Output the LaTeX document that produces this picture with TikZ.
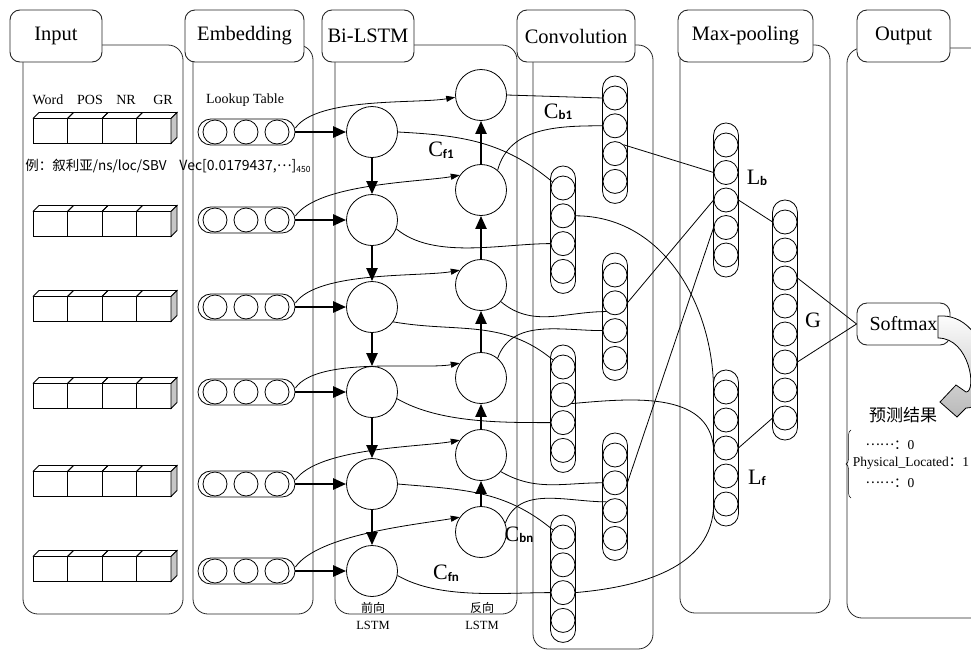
\documentclass[tikz,border=0pt]{standalone}
\usepackage{fontspec}
\setmainfont{Liberation Serif}
\newfontfamily\cjk{Noto Sans CJK SC}
\newfontfamily\subsf{Carlito}
\usetikzlibrary{arrows.meta,decorations.pathreplacing}

\tikzstyle{panel} = [draw=black!85, line width=0.8pt, rounded corners=15pt]
\tikzstyle{ptitle} = [draw=black!85, fill=white, line width=0.9pt, rounded corners=10pt,
    minimum height=52pt, inner sep=0pt, font=\fontsize{20.5}{22}\selectfont]
\tikzstyle{lstm} = [draw, circle, line width=0.8pt, minimum size=51pt, inner sep=0pt]
\tikzstyle{unit} = [draw, circle, line width=0.8pt, minimum size=24pt, inner sep=0pt]
\tikzstyle{capsule} = [draw, fill=white, line width=0.8pt, inner sep=0pt]
\tikzstyle{thickarr} = [line width=2.6pt, -{Triangle[length=13pt,width=11pt]}]
\tikzstyle{thinarr} = [line width=0.8pt, -{Triangle[length=9pt,width=6pt]}]
\tikzstyle{wire} = [line width=0.8pt]
\tikzstyle{hdr} = [inner sep=0pt, font=\fontsize{14}{14}\selectfont]
\tikzstyle{small} = [inner sep=0pt, font=\fontsize{12.5}{13}\selectfont]

\newcommand{\vstack}[5]{%
  \pgfmathsetmacro{\stlen}{(#4-1)*#5+44}
  \node[capsule, minimum width=25pt, minimum height=\stlen pt, rounded corners=12.4pt]
    (#1) at (#2,{#3+(#4-1)*#5/2}) {};
  \foreach \k in {1,...,#4}
    \node[unit] (#1\k) at (#2,{#3+(\k-1)*#5}) {};
}
\newcommand{\cname}[2]{{\fontsize{22}{22}\selectfont #1}\raisebox{-1.5pt}{\subsf\bfseries\fontsize{13}{13}\selectfont #2}}
\newcommand{\middots}[1]{\raisebox{0.3em}{\cjk #1}}

\begin{document}
\begin{tikzpicture}[x=1pt,y=-1pt]
\useasboundingbox (0,0) rectangle (971,651);
\clip (0,0) rectangle (971,651);

\draw[panel] (23,45) rectangle (183,614);
\draw[panel] (193,45) rectangle (313,614);
\draw[panel] (335,45) rectangle (517,614);
\draw[panel] (533,45) rectangle (653,649);
\draw[panel] (680,45) rectangle (830,613);
\draw[panel] (847,48) rectangle (995,618);

\node[ptitle, minimum width=92pt] (tinput) at (56,36) {Input};
\node[ptitle, minimum width=119pt] (tembed) at (244.5,36) {Embedding};
\node[ptitle, minimum width=92pt] (tlstm) at (368,36) {Bi-LSTM};
\node[ptitle, minimum width=118pt] (tconv) at (576,36) {Convolution};
\node[ptitle, minimum width=135pt] (tpool) at (745.5,36) {Max-pooling};
\node[ptitle, minimum width=93pt] (tout) at (903.5,36) {Output};

% input features
\foreach \t/\xx in {Word/48,POS/90,NR/126,GR/163}
  \node[hdr] (h\t) at (\xx,100) {\t};
\node[inner sep=0pt, font=\cjk\fontsize{13.5}{14}\selectfont] (sample) at (96,166) {例：叙利亚/ns/loc/SBV};
\foreach \yc in {131,224,309,396,484,569} {
  \foreach \j in {0,...,3} {
    \pgfmathsetmacro{\xa}{33+34.5*\j}
    \draw[wire] ({\xa},{\yc-12.5}) rectangle ++(34.5,25);
    \draw[wire] ({\xa},{\yc-12.5}) -- ++(6,-6) -- ++(34.5,0) -- ++(-6,6);
  }
  \draw[wire, fill=gray!45] (171,{\yc-12.5}) -- (177,{\yc-18.5}) -- (177,{\yc+6.5}) -- (171,{\yc+12.5}) -- cycle;
}

% embedding
\node[hdr] (lookup) at (245,100) {Lookup Table};
\node[inner sep=0pt, font=\cjk\fontsize{14}{14}\selectfont] (vec) at (245,166)
  {Vec[0.0179437,\raisebox{0.3em}{…}]\raisebox{-2.5pt}{\fontsize{8.5}{9}\selectfont 450}};
\foreach \i/\y/\yb in {1/132/95,2/220/190,3/307/285,4/392/378,5/484/455,6/571/532} {
  \node[capsule, minimum width=97pt, minimum height=26pt, rounded corners=12.9pt] (emb\i) at (246.5,\y) {};
  \foreach \cc/\xx in {a/215,b/246,c/277}
    \node[unit] (emb\i\cc) at (\xx,\y) {};
  \node[lstm] (fw\i) at (372,\y) {};
  \node[lstm] (bw\i) at (481,\yb) {};
}
\node[small, font=\cjk\fontsize{12}{12}\selectfont] (fwname) at (373,608) {前向};
\node[small] (fwlstm) at (373,625) {LSTM};
\node[small, font=\cjk\fontsize{12}{12}\selectfont] (bwname) at (482,608) {反向};
\node[small] (bwlstm) at (482,625) {LSTM};

% convolution and pooling
\vstack{A}{615}{98}{4}{27.8}
\vstack{B}{563}{188}{4}{27.8}
\vstack{C}{615}{275}{4}{27.8}
\vstack{D}{563}{367}{4}{27.8}
\vstack{E}{615}{455}{4}{27.8}
\vstack{F}{563}{537}{4}{27.8}
\vstack{Lb}{726}{145}{5}{27.5}
\vstack{Lf}{726}{392}{5}{28}
\vstack{G}{785}{222}{8}{28}

\node (cf1) at (441,150) {\cname{C}{f1}};
\node (cb1) at (558,112) {\cname{C}{b1}};
\node (cbn) at (519,535) {\cname{C}{bn}};
\node (cfn) at (446,573) {\cname{C}{fn}};
\node (lb) at (757,178) {\cname{L}{b}};
\node (lf) at (757,478) {\cname{L}{f}};
\node[font=\fontsize{22}{22}\selectfont] (lg) at (813,320) {G};

% output
\node[ptitle, minimum width=93pt, minimum height=42pt, font=\fontsize{20}{22}\selectfont] (soft) at (903.5,324) {Softmax};
\shade[top color=white, bottom color=gray!55] (938,316) .. controls (992,312) and (1002,408) .. (966,408)
  -- (957,417) -- (940,402) -- (956,385) -- (966,392)
  .. controls (977,392) and (970,338) .. (938,338) -- cycle;
\draw[wire] (938,316) .. controls (992,312) and (1002,408) .. (966,408) -- (957,417) -- (940,402)
  -- (956,385) -- (966,392) .. controls (977,392) and (970,338) .. (938,338) -- cycle;
\node[inner sep=0pt, font=\cjk\fontsize{17}{17}\selectfont] (pred) at (903,415) {预测结果};
\draw[line width=0.5pt, decorate, decoration={brace, amplitude=5pt}] (851,498) -- (851,430);
\node[inner sep=0pt, font=\fontsize{13.5}{14}\selectfont] (res1) at (890,445) {\middots{……}{\cjk ：}0};
\node[inner sep=0pt, font=\fontsize{13.5}{14}\selectfont] (res2) at (911,463) {Physical\_Located{\cjk ：}1};
\node[inner sep=0pt, font=\fontsize{13.5}{14}\selectfont] (res3) at (890,483) {\middots{……}{\cjk ：}0};

% connections
\foreach \i in {1,...,6}
  \draw[thickarr] (emb\i.east) -- (fw\i.west);
\foreach \i/\j in {1/2,2/3,3/4,4/5,5/6} {
  \draw[thickarr, line width=2.2pt] (fw\i.south) -- (fw\j.north);
  \draw[thickarr, line width=2.2pt] (bw\j.north) -- (bw\i.south);
}
\foreach \i/\a in {1/185,2/145,3/145,4/145,5/145,6/145}
  \draw[thinarr] ([yshift=4pt]emb\i.east) to[out=55,in=190,looseness=0.6] (bw\i.\a);

\draw[wire] (bw1.east) -- (A1.west);
\draw[wire] (fw1.east) to[out=-3,in=140] (B1.150);
\draw[wire] (bw2.50) to[out=75,in=180] (A2.west);
\draw[wire] (fw2.-20) to[out=-40,in=180,looseness=0.8] (B3.west);
\draw[wire] (B2.east) to[out=0,in=90] (Lf1.west);
\draw[wire] (bw3.-40) to[out=-40,in=180] (C2.south west);
\draw[wire] (fw3.-35) to[out=-10,in=140] (D1.145);
\draw[wire] (bw4.50) to[out=70,in=180] (C3.west);
\draw[wire] (fw4.-15) to[out=-30,in=180,looseness=0.8] (D3.west);
\draw[wire] (bw5.-40) to[out=-30,in=180] (E2.west);
\draw[wire] (fw5.east) to[out=-5,in=140] (F1.145);
\draw[wire] (bw6.20) to[out=70,in=180] (E3.north west);
\draw[wire] (fw6.-10) to[out=-30,in=180,looseness=0.8] (F3.west);
\draw[wire] (A3.north east) -- (Lb2.west);
\draw[wire] (C2.east) -- (Lb3.west);
\draw[wire] (Lb4.west) -- (E2.east);
\draw[wire] (D2.south east) to[out=5,in=95] (Lf3.west);
\draw[wire] (F3.east) to[out=5,in=-90] (Lf5.west);
\draw[wire] (Lb3.east) -- (G1.west);
\draw[wire] (Lf3.east) -- (G8.west);
\draw[wire] (G3.east) -- (soft.west);
\draw[wire] (G6.east) -- (soft.west);
\end{tikzpicture}
\end{document}
